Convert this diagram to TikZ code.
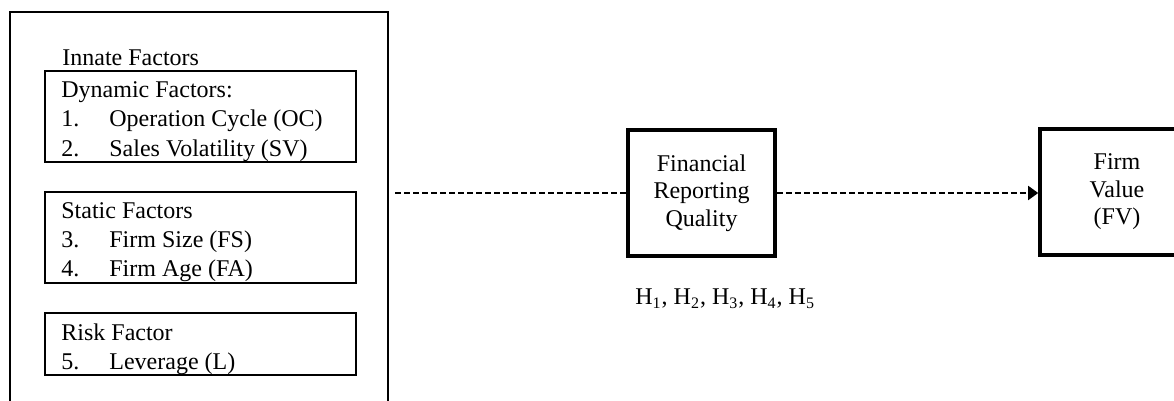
\documentclass[tikz,border=0pt]{standalone}
\usepackage{fontspec}
\setmainfont{Liberation Serif}
\usepackage{tikz}
\usetikzlibrary{arrows.meta,positioning}

\begin{document}
\begin{tikzpicture}[x=0.5pt,y=-0.5pt,
	thinbox/.style={draw,line width=1pt,minimum width=155.5pt,inner sep=0pt},
	thickbox/.style={draw,line width=1.8pt,minimum height=63pt,inner sep=0pt,align=center,font=\fontsize{12}{13.8}\selectfont},
	txt/.style={anchor=base west,inner sep=0pt,font=\fontsize{12}{14.5}\selectfont},
	link/.style={dash pattern=on 3pt off 1.5pt,line width=0.9pt}]
			\useasboundingbox (0,0) rectangle (1174,401);
			\clip (0,0) rectangle (1174,401);
			% left panel, open at the bottom
			\node[draw,line width=1pt,minimum width=189pt,minimum height=215pt,inner sep=0pt] (innate) at (199,227) {};
			\node[txt] (innatetxt) at (62,66) {Innate Factors};

			\node[thinbox,minimum height=45.5pt] (dyn) at (200.5,116.5) {};
			\node[txt] (dyntxt) at ([shift={(17,28)}]dyn.north west) {\begin{tabular}[t]{@{}p{24pt}@{}l@{}}
				\multicolumn{2}{@{}l@{}}{Dynamic Factors:}\\
				1. & Operation Cycle (OC)\\
				2. & Sales Volatility (SV)
			\end{tabular}};

			\node[thinbox,minimum height=45.5pt] (stat) at (200.5,237.5) {};
			\node[txt] (stattxt) at ([shift={(17,28)}]stat.north west) {\begin{tabular}[t]{@{}p{24pt}@{}l@{}}
				\multicolumn{2}{@{}l@{}}{Static Factors}\\
				3. & Firm Size (FS)\\
				4. & Firm Age (FA)
			\end{tabular}};

			\node[thinbox,minimum height=31pt] (risk) at (200.5,344) {};
			\node[txt] (risktxt) at ([shift={(17,28)}]risk.north west) {\begin{tabular}[t]{@{}p{24pt}@{}l@{}}
				\multicolumn{2}{@{}l@{}}{Risk Factor}\\
				5. & Leverage (L)
			\end{tabular}};

			% mediator and outcome
			\node[thickbox,minimum width=73.5pt] (frq) at (701.5,193) {Financial\\Reporting\\Quality};
			\node[thickbox,minimum width=77pt] (fv) at (1117,192) {Firm\\Value\\(FV)};
			\node[txt] (hyp) at (635,305) {H\textsubscript{1}, H\textsubscript{2}, H\textsubscript{3}, H\textsubscript{4}, H\textsubscript{5}};

			\draw[link,shorten <=3pt] (innate.east |- frq) -- (frq);
			\draw[link,-{Triangle[length=5pt,width=7pt]}] (frq) -- (fv.west |- frq);
		\end{tikzpicture}
\end{document}
